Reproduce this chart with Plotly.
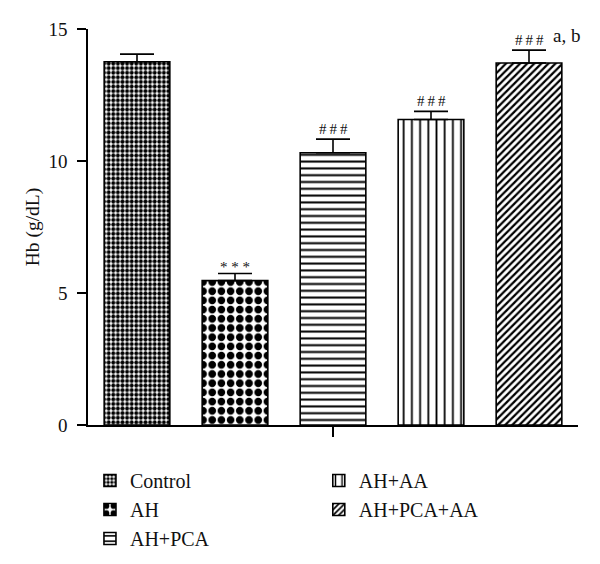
import plotly.graph_objects as go

groups = ["Control", "AH", "AH+PCA", "AH+AA", "AH+PCA+AA"]
hb_mean = [13.76, 5.47, 10.31, 11.57, 13.71]
hb_sem = [0.29, 0.27, 0.52, 0.31, 0.49]
marks = ["", "* * *", "#\u2009#\u2009#", "#\u2009#\u2009#", "#\u2009#\u2009#"]
extra_mark = ["", "", "", "", "a, b"]
y_ticks = [0, 5, 10, 15]

patterns = [
    dict(shape=".", size=4.6, solidity=0.6, fgcolor="black", bgcolor="white", fgopacity=1),
    dict(shape=".", size=9.2, solidity=0.55, fgcolor="black", bgcolor="white", fgopacity=1),
    dict(shape="-", size=6.8, solidity=0.3, fgcolor="black", bgcolor="white", fgopacity=1),
    dict(shape="|", size=8.2, solidity=0.22, fgcolor="black", bgcolor="white", fgopacity=1),
    dict(shape="/", size=5, solidity=0.45, fgcolor="black", bgcolor="white", fgopacity=1),
]

FONT = "Liberation Serif"
fig = go.Figure()
for i, g in enumerate(groups):
    fig.add_trace(go.Bar(
        x=[i], y=[hb_mean[i]], name=g, width=0.67,
        marker=dict(color="white", line=dict(color="black", width=1.6), pattern=patterns[i]),
        error_y=dict(type="data", symmetric=False, array=[hb_sem[i]], arrayminus=[0],
                     color="black", thickness=1.6, width=17),
        legend="legend" if i < 3 else "legend2",
    ))

for i, g in enumerate(groups):
    if marks[i]:
        fig.add_annotation(x=i, y=hb_mean[i] + hb_sem[i], text=marks[i], showarrow=False,
                           yanchor="bottom", yshift=-4 if "*" in marks[i] else 0,
                           font=dict(family=FONT, size=15, color="#111"))
    if extra_mark[i]:
        fig.add_annotation(x=i, y=hb_mean[i] + hb_sem[i], text=extra_mark[i], showarrow=False,
                           xanchor="left", xshift=22, yanchor="bottom", yshift=2,
                           font=dict(family=FONT, size=19, color="#111"))

# page body has an 8px offset; margins compensate so the plot area sits at 88..578 x 29..425
fig.update_layout(
    width=600, height=564,
    margin=dict(l=80, r=30, t=21, b=147, autoexpand=False),
    paper_bgcolor="white", plot_bgcolor="white",
    font=dict(family=FONT, size=18, color="#111"),
    showlegend=True,
    legend=dict(x=0.004, y=-0.091, xanchor="left", yanchor="top",
                font=dict(size=20, color="#111"), bgcolor="rgba(0,0,0,0)"),
    legend2=dict(x=0.471, y=-0.091, xanchor="left", yanchor="top",
                 font=dict(size=20, color="#111"), bgcolor="rgba(0,0,0,0)"),
)
fig.update_xaxes(range=[-0.5, 4.5], showline=True, linecolor="black", linewidth=1.6,
                 tickmode="array", tickvals=[2], ticktext=[""], ticks="outside",
                 ticklen=10, tickwidth=1.6, tickcolor="black", showgrid=False, zeroline=False,
                 automargin=False)
fig.update_yaxes(range=[0, 15], showline=True, linecolor="black", linewidth=1.6,
                 tickmode="array", tickvals=y_ticks, ticks="outside", ticklen=9,
                 tickwidth=1.6, tickcolor="black", showgrid=False, zeroline=False,
                 ticklabelstandoff=6, tickfont=dict(size=19, color="#111"), automargin=False,
                 title=dict(text="Hb (g/dL)", font=dict(size=19.5, color="#111"), standoff=4))

fig.write_html("out.html")
